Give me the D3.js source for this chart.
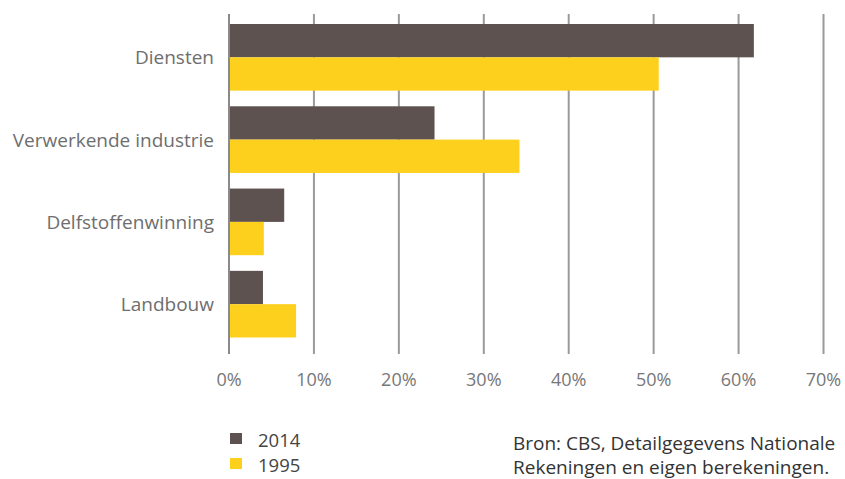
<!DOCTYPE html>
<html>
<head>
<meta charset="utf-8">
<script src="https://cdn.jsdelivr.net/npm/d3@7"></script>
<style>
  body { margin: 0; background: #fff; }
  text { font-family: "Open Sans", sans-serif; }
</style>
</head>
<body>
<div id="chart"></div>
<script>
var categories = ["Diensten", "Verwerkende industrie", "Delfstoffenwinning", "Landbouw"];
var years = ["2014", "1995"];
var values2014 = [61.8, 24.2, 6.5, 4.0];
var values1995 = [50.6, 34.2, 4.1, 7.9];
var xTicks = [0, 10, 20, 30, 40, 50, 60, 70];
var sourceLines = ["Bron: CBS, Detailgegevens Nationale", "Rekeningen en eigen berekeningen."];

var colors = { "2014": "#5e5250", "1995": "#fdd01d" };

var svgWidth = 845;
var svgHeight = 479;

var svg = d3.select("#chart")
  .append("svg")
  .attr("width", svgWidth)
  .attr("height", svgHeight);

var data = categories.map(function(c, i) {
  return { cat: c, "2014": values2014[i], "1995": values1995[i] };
});

var x = d3.scaleLinear()
  .domain([0, 70])
  .range([229, 823.5]);

var y = d3.scaleBand()
  .domain(categories)
  .range([24, 337.5])
  .paddingInner(0.19)
  .paddingOuter(0);

var ySub = d3.scaleBand()
  .domain(years)
  .range([0, y.bandwidth()]);

// grid lines
svg.append("g")
  .selectAll("line")
  .data(xTicks)
  .enter()
  .append("line")
  .attr("x1", d => x(d))
  .attr("x2", d => x(d))
  .attr("y1", 14)
  .attr("y2", 354)
  .attr("stroke", "#9a9a9a")
  .attr("stroke-width", 2);

// bars
var groups = svg.append("g")
  .selectAll("g")
  .data(data)
  .enter()
  .append("g")
  .attr("transform", d => `translate(0, ${y(d.cat)})`);

groups.selectAll("rect")
  .data(d => years.map(k => ({ key: k, value: d[k] })))
  .enter()
  .append("rect")
  .attr("x", x(0))
  .attr("y", d => ySub(d.key))
  .attr("width", d => x(d.value) - x(0))
  .attr("height", ySub.bandwidth())
  .attr("fill", d => colors[d.key]);

// axis line on top
svg.append("line")
  .attr("x1", x(0))
  .attr("x2", x(0))
  .attr("y1", 14)
  .attr("y2", 354)
  .attr("stroke", "#8a8a8a")
  .attr("stroke-width", 2);

// category labels
svg.append("g")
  .selectAll("text")
  .data(categories)
  .enter()
  .append("text")
  .attr("x", 214)
  .attr("y", d => y(d) + y.bandwidth() / 2)
  .attr("text-anchor", "end")
  .attr("dominant-baseline", "central")
  .attr("font-size", "19px")
  .attr("fill", "#6e6e6e")
  .text(d => d);

// tick labels
svg.append("g")
  .selectAll("text")
  .data(xTicks)
  .enter()
  .append("text")
  .attr("x", d => x(d))
  .attr("y", 386)
  .attr("text-anchor", "middle")
  .attr("font-size", "18px")
  .attr("fill", "#777")
  .text(d => d + "%");

// legend
var legend = svg.append("g")
  .selectAll("g")
  .data(years)
  .enter()
  .append("g")
  .attr("transform", (d, i) => `translate(230, ${433 + i * 25})`);

legend.append("rect")
  .attr("width", 12)
  .attr("height", 11)
  .attr("fill", d => colors[d]);

legend.append("text")
  .attr("x", 28)
  .attr("y", 13.5)
  .attr("font-size", "18.5px")
  .attr("fill", "#444")
  .text(d => d);

// source
svg.append("g")
  .selectAll("text")
  .data(sourceLines)
  .enter()
  .append("text")
  .attr("x", 513)
  .attr("y", (d, i) => 450 + i * 24)
  .attr("font-size", "19px")
  .attr("fill", "#333")
  .text(d => d);
</script>
</body>
</html>
